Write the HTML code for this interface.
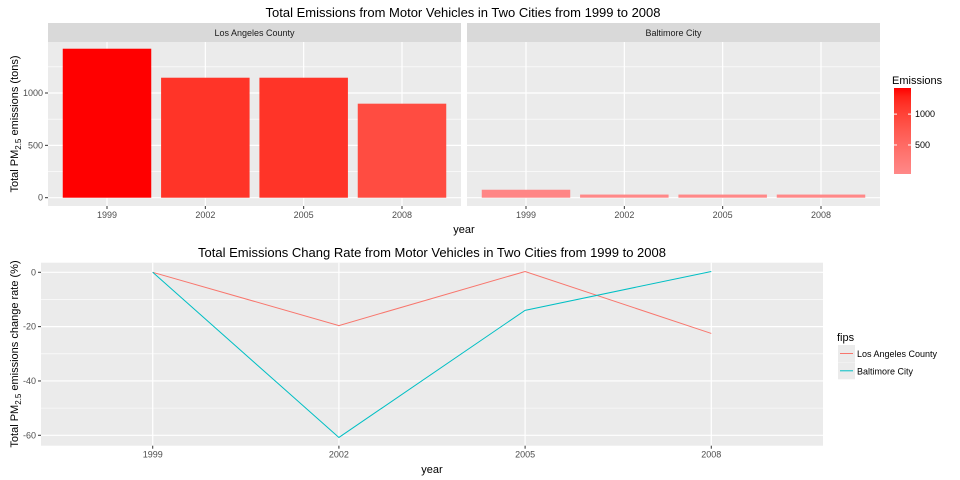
<!DOCTYPE html>
<html><head><meta charset="utf-8"><style>
body{margin:0;background:#fff;}
svg{display:block;font-family:"Liberation Sans",sans-serif;}
</style></head><body>
<svg id="chart" width="960" height="480" viewBox="0 0 960 480"></svg>
<script>
const years = ["1999","2002","2005","2008"];
const laEmissions = [1423, 1146, 1146, 898];
const baltEmissions = [76, 30, 30, 30];
const barTicks = [0, 500, 1000];
const legendTicks = [500, 1000];
const laRate = [0, -19.6, 0.3, -22.5];
const baltRate = [0, -60.8, -14.0, 0.3];
const rateTicks = [0, -20, -40, -60];
const cities = ["Los Angeles County", "Baltimore City"];

const svg = document.getElementById('chart');
const NS = 'http://www.w3.org/2000/svg';
function mk(tag, attrs, parent, name, text) {
  const e = document.createElementNS(NS, tag);
  for (const k in attrs) e.setAttribute(k, attrs[k]);
  
  
  if (text !== undefined) e.textContent = text;
  (parent || svg).appendChild(e);
  return e;
}
const vmin = Math.min(...laEmissions, ...baltEmissions), vmax = Math.max(...laEmissions, ...baltEmissions);
function fillFor(v) {
  const t = Math.max(0, Math.min(1, (v - vmin) / (vmax - vmin)));
  const g = Math.round(136 * Math.pow(1 - t, 0.6));
  const b = Math.round(136 * Math.pow(1 - t, 0.75));
  return `rgb(255,${g},${b})`;
}
mk('text', {x: 463, y: 17, 'font-size': 13, 'text-anchor': 'middle', fill: '#000'}, null, 'top-chart-title', 'Total Emissions from Motor Vehicles in Two Cities from 1999 to 2008');

const topY0 = 42, topY1 = 206;
const yTop = v => 197.7 - v * (104.7 / 1000);
const panels = [{x0: 48, x1: 461, data: laEmissions, name: 'la'}, {x0: 467, x1: 880, data: baltEmissions, name: 'baltimore'}];
panels.forEach((p, pi) => {
  const step = (p.x1 - p.x0) / 4.2;
  const xc = i => p.x0 + step * (0.6 + i);
  mk('rect', {x: p.x0, y: 23, width: p.x1 - p.x0, height: 19, fill: '#d9d9d9'}, null, 'facet-strip-' + p.name);
  mk('text', {x: (p.x0 + p.x1) / 2, y: 36, 'font-size': 9, 'text-anchor': 'middle', fill: '#1a1a1a'}, null, 'facet-label-' + p.name, cities[pi]);
  mk('rect', {x: p.x0, y: topY0, width: p.x1 - p.x0, height: topY1 - topY0, fill: '#ebebeb'}, null, 'panel-bg-' + p.name);
  [250, 750, 1250].forEach(v => mk('line', {x1: p.x0, x2: p.x1, y1: yTop(v), y2: yTop(v), stroke: '#fff', 'stroke-width': 0.6}, null, 'minor-gridline'));
  barTicks.forEach(v => mk('line', {x1: p.x0, x2: p.x1, y1: yTop(v), y2: yTop(v), stroke: '#fff', 'stroke-width': 1.2}, null, 'major-gridline'));
  years.forEach((y, i) => {
    mk('line', {x1: xc(i), x2: xc(i), y1: topY0, y2: topY1, stroke: '#fff', 'stroke-width': 1.2}, null, 'x-gridline');
    mk('line', {x1: xc(i), x2: xc(i), y1: topY1, y2: topY1 + 3, stroke: '#333'}, null, 'x-tick');
    mk('text', {x: xc(i), y: topY1 + 12, 'font-size': 9, 'text-anchor': 'middle', fill: '#4d4d4d'}, null, 'x-tick-label', y);
  });
  p.data.forEach((v, i) => {
    const w = step * 0.9;
    mk('rect', {x: xc(i) - w / 2, y: yTop(v), width: w, height: yTop(0) - yTop(v), fill: fillFor(v)}, null, 'bar-' + p.name + '-' + years[i]);
  });
});
barTicks.forEach(v => {
  mk('line', {x1: 45, x2: 48, y1: yTop(v), y2: yTop(v), stroke: '#333'}, null, 'y-tick');
  mk('text', {x: 43, y: yTop(v) + 3, 'font-size': 9, 'text-anchor': 'end', fill: '#4d4d4d'}, null, 'y-tick-label', v);
});
const yt = mk('text', {transform: 'translate(18,124) rotate(-90)', 'font-size': 11, 'text-anchor': 'middle', fill: '#000'}, null, 'top-y-axis-title');
yt.innerHTML = 'Total PM<tspan font-size="8" dy="3">2.5</tspan><tspan dy="-3"> emissions (tons)</tspan>';
mk('text', {x: 464, y: 233, 'font-size': 11, 'text-anchor': 'middle', fill: '#000'}, null, 'top-x-axis-title', 'year');

mk('text', {x: 892, y: 84, 'font-size': 11, fill: '#000'}, null, 'colorbar-title', 'Emissions');
const defs = mk('defs', {}, null, 'defs');
const lg = mk('linearGradient', {id: 'cg', x1: 0, y1: 1, x2: 0, y2: 0}, defs, 'gradient');
for (let k = 0; k <= 10; k++) {
  mk('stop', {offset: k / 10, 'stop-color': fillFor(vmin + (vmax - vmin) * k / 10)}, lg, 'stop');
}
const cbTop = 88, cbBot = 174;
const yCb = v => cbBot - (v - vmin) / (vmax - vmin) * (cbBot - cbTop);
mk('rect', {x: 894, y: cbTop, width: 17, height: cbBot - cbTop, fill: 'url(#cg)'}, null, 'colorbar');
legendTicks.forEach(v => {
  mk('line', {x1: 894, x2: 897, y1: yCb(v), y2: yCb(v), stroke: '#fff'}, null, 'colorbar-tick');
  mk('line', {x1: 908, x2: 911, y1: yCb(v), y2: yCb(v), stroke: '#fff'}, null, 'colorbar-tick');
  mk('text', {x: 915, y: yCb(v) + 3, 'font-size': 9, fill: '#000'}, null, 'colorbar-label', v);
});

mk('text', {x: 432, y: 257, 'font-size': 13, 'text-anchor': 'middle', fill: '#000'}, null, 'bottom-chart-title', 'Total Emissions Chang Rate from Motor Vehicles in Two Cities from 1999 to 2008');
const bx0 = 41, bx1 = 823, by0 = 262.7, by1 = 445.7;
const bstep = (bx1 - bx0) / 4.2;
const xb = i => bx0 + bstep * (0.6 + i);
const yb = v => 272.3 - v * (54.33 / 20);
mk('rect', {x: bx0, y: by0, width: bx1 - bx0, height: by1 - by0, fill: '#ebebeb'}, null, 'bottom-panel-bg');
[-10, -30, -50].forEach(v => mk('line', {x1: bx0, x2: bx1, y1: yb(v), y2: yb(v), stroke: '#fff', 'stroke-width': 0.6}, null, 'minor-gridline'));
rateTicks.forEach(v => {
  mk('line', {x1: bx0, x2: bx1, y1: yb(v), y2: yb(v), stroke: '#fff', 'stroke-width': 1.2}, null, 'major-gridline');
  mk('line', {x1: bx0 - 3, x2: bx0, y1: yb(v), y2: yb(v), stroke: '#333'}, null, 'y-tick');
  mk('text', {x: bx0 - 5, y: yb(v) + 3, 'font-size': 9, 'text-anchor': 'end', fill: '#4d4d4d'}, null, 'y-tick-label', v);
});
years.forEach((y, i) => {
  mk('line', {x1: xb(i), x2: xb(i), y1: by0, y2: by1, stroke: '#fff', 'stroke-width': 1.2}, null, 'x-gridline');
  mk('line', {x1: xb(i), x2: xb(i), y1: by1, y2: by1 + 3, stroke: '#333'}, null, 'x-tick');
  mk('text', {x: xb(i), y: by1 + 12, 'font-size': 9, 'text-anchor': 'middle', fill: '#4d4d4d'}, null, 'x-tick-label', y);
});
const colors = ['#f8766d', '#00bfc4'];
[laRate, baltRate].forEach((arr, si) => {
  mk('polyline', {points: arr.map((v, i) => xb(i) + ',' + yb(v)).join(' '), fill: 'none', stroke: colors[si], 'stroke-width': 1}, null, 'line-' + (si ? 'baltimore' : 'la'));
});
const yt2 = mk('text', {transform: 'translate(18,354) rotate(-90)', 'font-size': 11, 'text-anchor': 'middle', fill: '#000'}, null, 'bottom-y-axis-title');
yt2.innerHTML = 'Total PM<tspan font-size="8" dy="3">2.5</tspan><tspan dy="-3"> emissions change rate (%)</tspan>';
mk('text', {x: 432, y: 473, 'font-size': 11, 'text-anchor': 'middle', fill: '#000'}, null, 'bottom-x-axis-title', 'year');
mk('text', {x: 837, y: 341, 'font-size': 11, fill: '#000'}, null, 'legend-title', 'fips');
cities.forEach((c, i) => {
  const y0 = 345 + i * 17.3;
  mk('rect', {x: 838, y: y0, width: 17, height: 17, fill: '#ebebeb'}, null, 'legend-key-bg');
  mk('line', {x1: 840, x2: 853, y1: y0 + 8.5, y2: y0 + 8.5, stroke: colors[i], 'stroke-width': 1}, null, 'legend-key-line');
  mk('text', {x: 857, y: y0 + 12, 'font-size': 9, fill: '#000'}, null, 'legend-entry', c);
});
</script>
</body></html>
